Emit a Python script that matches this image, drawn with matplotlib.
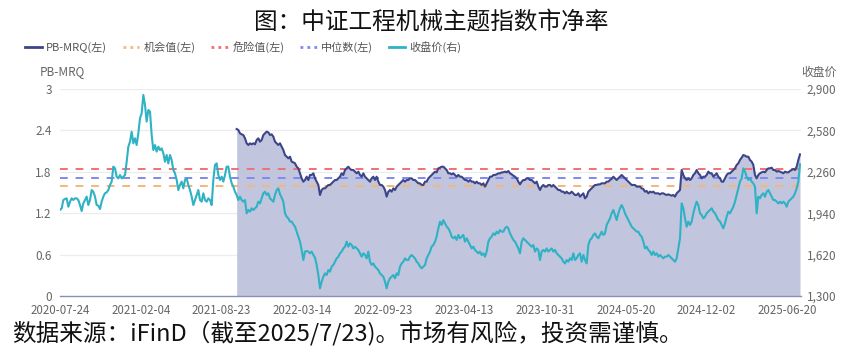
import numpy as np
import matplotlib
matplotlib.use("Agg")
import matplotlib.pyplot as plt
from matplotlib.lines import Line2D
from matplotlib.ticker import FuncFormatter

plt.rcParams['font.family'] = ['Noto Sans CJK SC', 'DejaVu Sans']

# ---------------- data ----------------
x_tick_labels = ["2020-07-24", "2021-02-04", "2021-08-23", "2022-03-14", "2022-09-23",
                 "2023-04-13", "2023-10-31", "2024-05-20", "2024-12-02", "2025-06-20"]

# 收盘价 (right axis), evenly spaced samples 2020-07-24 .. 2025-07-23
close = [1965,1978,2042,2050,2055,1990,2029,2055,2042,2055,2055,2042,2003,1957,2016,2042,2068,2003,2042,2119,
         2106,2068,2003,1998,1972,2029,2068,2094,2101,2119,2158,2184,2300,2287,2222,2209,2235,2209,2222,2235,
         2338,2454,2493,2570,2480,2519,2467,2557,2673,2712,2854,2776,2648,2738,2725,2544,2428,2467,2416,2454,
         2428,2441,2403,2338,2390,2325,2390,2351,2274,2248,2197,2119,2158,2184,2132,2197,2209,2158,2119,2068,
         2003,2042,2081,2119,2042,2029,2094,2042,2029,2055,2042,2003,2197,2313,2325,2235,2197,2222,2184,2235,
         2300,2300,2222,2171,2145,2106,2081,2042,2068,2042,2029,2042,1939,1965,1952,1978,1965,1978,1990,2029,
         2016,2055,2094,2106,2081,2094,2055,2042,2029,2081,2119,2132,2086,2060,2029,1939,1913,1900,1875,1875,
         1854,1836,1797,1759,1720,1656,1578,1643,1648,1643,1630,1643,1617,1596,1540,1462,1359,1411,1449,1475,
         1462,1501,1488,1527,1540,1565,1591,1604,1630,1643,1668,1681,1720,1681,1707,1694,1668,1681,1668,1656,
         1630,1604,1630,1617,1591,1643,1565,1540,1552,1527,1514,1501,1475,1462,1449,1411,1359,1411,1437,1449,
         1462,1437,1475,1462,1527,1552,1565,1591,1578,1578,1604,1617,1604,1591,1565,1552,1527,1514,1527,
         1540,1591,1617,1643,1681,1694,1720,1759,1823,1875,1849,1887,1862,1836,1823,1797,1759,1746,1759,1733,
         1772,1746,1759,1772,1720,1746,1720,1694,1668,1681,1656,1643,1630,1643,1617,1630,1604,1643,1720,1746,
         1759,1784,1772,1797,1784,1810,1797,1797,1823,1836,1823,1784,1759,1733,1720,1694,1668,1630,1720,1746,
         1733,1720,1707,1694,1681,1694,1643,1668,1656,1578,1643,1656,1643,1668,1643,1656,1668,1643,1656,1630,
         1617,1604,1591,1565,1552,1578,1565,1591,1578,1630,1578,1591,1617,1630,1565,1617,1578,1552,1694,1733,
         1746,1772,1784,1759,1746,1772,1797,1772,1784,1849,1875,1900,1939,1965,1926,1887,1939,1978,2003,1978,
         1939,1913,1887,1862,1836,1823,1810,1797,1797,1772,1759,1720,1668,1681,1656,1643,1617,1643,1617,1630,
         1604,1617,1604,1591,1604,1604,1617,1604,1591,1578,1565,1591,1668,1746,2016,1978,1900,1836,1875,1849,
         1875,1939,1990,2029,2003,1939,1926,1900,1913,1939,1952,1965,1978,1952,1939,1913,1887,1875,1849,1823,
         1862,1913,1952,1939,1965,1990,2029,2081,2132,2184,2209,2287,2261,2222,2197,2209,2184,2171,2145,1939,
         2068,2055,2081,2094,2068,2106,2119,2094,2068,2042,2042,2029,2016,2029,2016,2029,2016,1990,2029,2042,
         2055,2068,2094,2132,2184,2318]

# PB-MRQ (left axis), same sampling, available from 2021-08 onward (ends with close)
pb = [2.420,2.406,2.357,2.343,2.333,2.285,2.213,2.188,2.213,2.198,2.213,2.198,2.261,2.285,2.237,2.261,2.333,
      2.357,2.382,2.372,2.333,2.343,2.309,2.237,2.213,2.188,2.213,2.164,2.116,2.043,2.019,1.995,2.019,1.947,
      1.937,1.923,1.874,1.850,1.778,1.705,1.657,1.681,1.729,1.681,1.754,1.754,1.778,1.705,1.657,1.609,1.464,
      1.536,1.560,1.560,1.585,1.609,1.609,1.633,1.657,1.681,1.681,1.705,1.729,1.778,1.754,1.826,1.850,1.874,
      1.841,1.826,1.826,1.802,1.778,1.802,1.754,1.729,1.778,1.729,1.705,1.681,1.657,1.705,1.729,1.681,1.729,
      1.657,1.609,1.609,1.585,1.536,1.440,1.512,1.536,1.512,1.560,1.536,1.585,1.609,1.633,1.657,1.681,1.657,
      1.681,1.681,1.705,1.705,1.681,1.681,1.657,1.633,1.633,1.609,1.609,
      1.657,1.657,1.705,1.729,1.754,1.778,1.802,1.792,1.850,1.860,1.874,1.874,1.850,1.826,1.778,1.778,1.763,
      1.778,1.754,1.729,1.754,1.729,1.729,1.705,1.681,1.681,1.657,1.681,1.657,1.657,1.633,1.657,1.633,1.633,
      1.609,1.633,1.585,1.633,1.681,1.729,1.729,1.754,1.754,1.763,1.778,1.778,1.792,1.792,1.802,1.792,1.812,
      1.778,1.763,1.744,1.729,1.705,1.657,1.618,1.657,1.681,1.681,1.705,1.705,1.681,1.681,1.657,1.633,1.657,
      1.585,1.536,1.585,1.609,1.585,1.585,1.609,1.609,1.585,1.609,1.585,1.560,1.536,1.536,1.512,1.512,1.488,
      1.512,1.488,1.488,1.512,1.488,1.464,1.464,1.488,1.440,1.464,1.488,1.415,1.440,1.512,1.536,1.560,1.585,
      1.609,1.609,1.618,1.618,1.633,1.633,1.633,1.657,1.657,1.681,1.696,1.729,1.705,1.681,1.705,1.729,1.754,
      1.729,1.705,1.681,1.657,1.633,1.609,1.609,1.609,1.585,1.585,1.585,1.560,1.551,1.512,1.522,1.488,1.512,
      1.502,1.512,1.488,1.488,1.488,1.473,1.488,1.488,1.473,1.464,1.473,1.464,1.454,1.464,1.440,1.488,1.512,
      1.536,1.826,1.754,1.705,1.681,1.705,1.681,1.705,1.754,1.778,1.826,1.778,1.754,1.705,1.729,1.729,1.754,
      1.802,1.778,1.778,1.729,1.754,1.778,1.729,1.705,1.657,1.657,1.705,1.754,1.778,1.778,1.802,1.826,1.850,
      1.899,1.923,1.971,2.005,2.043,2.034,2.019,2.019,1.971,1.947,1.899,1.754,1.705,1.754,1.778,1.792,1.802,
      1.792,1.826,1.850,1.850,1.860,1.826,1.826,1.802,1.812,1.802,1.792,1.778,1.802,1.792,1.792,1.812,1.826,
      1.841,1.826,1.874,1.971,2.053]

danger_value = 1.84       # 危险值
median_value = 1.71       # 中位数
opportunity_value = 1.60  # 机会值

left_ticks = [0, 0.6, 1.2, 1.8, 2.4, 3]
right_ticks = [1300, 1620, 1940, 2260, 2580, 2900]

# ---------------- style ----------------
C_PB = '#3d4589'
C_FILL = '#c2c5de'
C_CLOSE = '#2fb2c4'
C_DANGER = '#f27070'
C_MEDIAN = '#8089ee'
C_OPP = '#f6b678'
C_TEXT = '#666666'

n = len(close)
x_close = np.arange(n)
x_pb = np.arange(n - len(pb), n)

fig = plt.figure(figsize=(8.62, 3.60), dpi=100)
ax = fig.add_axes([60/862, 1-296/360, (801-60)/862, (296-89)/360])
ax2 = ax.twinx()

ax.set_xlim(0, n - 1 + 0.6)
ax.set_ylim(0, 3)
ax2.set_ylim(1300, 2900)

# grid
for v in left_ticks[1:]:
    ax.axhline(v, color='#ececec', lw=0.9, zorder=0)

ax.fill_between(x_pb, pb, 0, color=C_FILL, lw=0, zorder=1)
ax.plot(x_pb, pb, color=C_PB, lw=1.5, zorder=3)

dash = (0, (4, 4))
ax.axhline(danger_value, color=C_DANGER, lw=1.4, ls=dash, zorder=2)
ax.axhline(median_value, color=C_MEDIAN, lw=1.4, ls=dash, zorder=2)
ax.axhline(opportunity_value, color=C_OPP, lw=1.4, ls=dash, zorder=2)

ax2.plot(x_close, close, color=C_CLOSE, lw=1.5, zorder=3)

# axes styling
for a in (ax, ax2):
    for s in a.spines.values():
        s.set_visible(False)
ax.spines['bottom'].set_visible(True)
ax.spines['bottom'].set_color('#8a8fb5')
ax.spines['bottom'].set_linewidth(1.0)

ax.set_yticks(left_ticks)
ax.set_yticklabels(['0', '0.6', '1.2', '1.8', '2.4', '3'])
ax2.set_yticks(right_ticks)
ax2.yaxis.set_major_formatter(FuncFormatter(lambda v, p: f"{int(v):,}"))

xt = np.arange(len(x_tick_labels)) * 48.5
ax.set_xticks(xt)
ax.set_xticklabels(x_tick_labels)

ax.tick_params(axis='y', length=0, pad=6, labelsize=8.5, labelcolor=C_TEXT)
ax2.tick_params(axis='y', length=0, pad=4, labelsize=8.5, labelcolor=C_TEXT)
ax.tick_params(axis='x', length=0, pad=6, labelsize=8.3, labelcolor=C_TEXT)

# axis names
fig.text(62/862, 1-72/360, 'PB-MRQ', ha='center', va='center', fontsize=8.5, color=C_TEXT)
fig.text(819/862, 1-72/360, '收盘价', ha='center', va='center', fontsize=8.5, color=C_TEXT)

# title
fig.text(431/862, 1-22/360, '图：中证工程机械主题指数市净率', ha='center', va='center',
         fontsize=17, color='#111111')

# legend
handles = [
    Line2D([], [], color=C_PB, lw=2),
    Line2D([], [], color=C_OPP, lw=2, ls=(0, (1, 1.5))),
    Line2D([], [], color=C_DANGER, lw=2, ls=(0, (1, 1.5))),
    Line2D([], [], color=C_MEDIAN, lw=2, ls=(0, (1, 1.5))),
    Line2D([], [], color=C_CLOSE, lw=2),
]
labels = ['PB-MRQ(左)', '机会值(左)', '危险值(左)', '中位数(左)', '收盘价(右)']
leg = fig.legend(handles, labels, ncol=5, loc='center left', bbox_to_anchor=(25/862, 1-47/360),
                 frameon=False, fontsize=8, handlelength=1.5, handletextpad=0.4,
                 columnspacing=1.4, borderaxespad=0, borderpad=0)
for t in leg.get_texts():
    t.set_color('#555555')

# source
fig.text(12/862, 1-334/360, '数据来源：iFinD（截至2025/7/23)。市场有风险，投资需谨慎。', ha='left',
         va='center', fontsize=17, color='#111111')

fig.savefig('out.png', dpi=100)
